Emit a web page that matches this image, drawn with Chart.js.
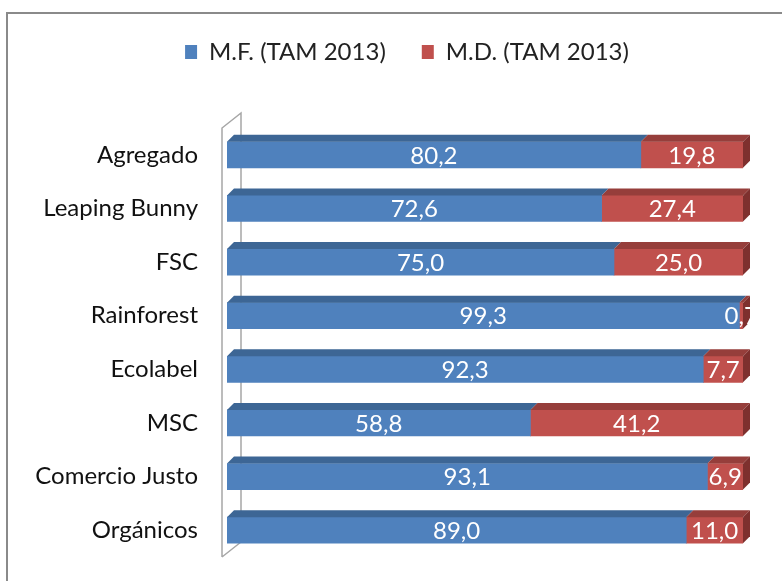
<!DOCTYPE html>
<html>
<head>
<meta charset="utf-8">
<script src="https://cdn.jsdelivr.net/npm/chart.js@4.4.0/dist/chart.umd.min.js"></script>
<style>
  body { margin: 0; overflow: hidden; background: #fff; }
  #wrap { position: relative; width: 782px; height: 581px; }
  #frame { position: absolute; left: 6px; top: 12px; width: 900px; height: 900px; border: 2px solid #8a8a8a; }
  #chartPlace { position: absolute; left: 0; top: 0; }
</style>
</head>
<body>
<div id="wrap">
  <div id="frame"></div>
  <canvas id="chartPlace" width="782" height="581"></canvas>
</div>
<script>
const categories = ["Agregado", "Leaping Bunny", "FSC", "Rainforest", "Ecolabel", "MSC", "Comercio Justo", "Orgánicos"];
const seriesNames = ["M.F. (TAM 2013)", "M.D. (TAM 2013)"];
const valuesMF = [80.2, 72.6, 75.0, 99.3, 92.3, 58.8, 93.1, 89.0];
const valuesMD = [19.8, 27.4, 25.0, 0.7, 7.7, 41.2, 6.9, 11.0];

const fontName = "Lato";
const frontColors = ["#4f81bd", "#c0504d"];
const topColors = ["#3d6695", "#963e3b"];
const sideColors = ["#34587f", "#7e302e"];
const depthX = 7;
const depthY = 7;

/* back wall of the 3d plot, drawn before the bars */
const wallPlugin = {
  id: "wall",
  beforeDatasetsDraw(chart) {
    var a = chart.chartArea;
    var ctx = chart.ctx;
    var fx = a.left - 5, bx = a.left + 14, dy = 15;
    ctx.save();
    ctx.strokeStyle = "#a6a6a6";
    ctx.lineWidth = 1.5;
    ctx.beginPath();
    ctx.moveTo(fx, a.bottom);
    ctx.lineTo(fx, a.top);
    ctx.lineTo(bx, a.top - dy);
    ctx.lineTo(bx, a.bottom - dy);
    ctx.lineTo(fx, a.bottom);
    ctx.stroke();
    ctx.restore();
  }
};

/* top and right faces of each bar, then the value labels */
const depthPlugin = {
  id: "depth",
  afterDatasetsDraw(chart) {
    var ctx = chart.ctx;
    ctx.save();
    chart.data.datasets.forEach(function (ds, i) {
      var meta = chart.getDatasetMeta(i);
      meta.data.forEach(function (bar) {
        var top = bar.y - bar.height / 2;
        var bottom = bar.y + bar.height / 2;
        ctx.fillStyle = topColors[i];
        ctx.beginPath();
        ctx.moveTo(bar.base, top);
        ctx.lineTo(bar.base + depthX, top - depthY);
        ctx.lineTo(bar.x + depthX, top - depthY);
        ctx.lineTo(bar.x, top);
        ctx.closePath();
        ctx.fill();
        if (i == chart.data.datasets.length - 1) {
          ctx.fillStyle = sideColors[i];
          ctx.beginPath();
          ctx.moveTo(bar.x, top);
          ctx.lineTo(bar.x + depthX, top - depthY);
          ctx.lineTo(bar.x + depthX, bottom - depthY);
          ctx.lineTo(bar.x, bottom);
          ctx.closePath();
          ctx.fill();
        }
      });
    });
    ctx.fillStyle = "#ffffff";
    ctx.font = "24px " + fontName;
    ctx.textAlign = "center";
    ctx.textBaseline = "middle";
    chart.data.datasets.forEach(function (ds, i) {
      var meta = chart.getDatasetMeta(i);
      meta.data.forEach(function (bar, j) {
        var txt = ds.data[j].toFixed(1).replace(".", ",");
        ctx.fillText(txt, (bar.x + bar.base) / 2, bar.y + 1);
      });
    });
    ctx.restore();
  }
};

function createChart() {
  var chartPlace = document.getElementById("chartPlace").getContext("2d");
  const data = {
    labels: categories,
    datasets: [{
      label: seriesNames[0],
      data: valuesMF,
      backgroundColor: frontColors[0],
      barThickness: 26
    }, {
      label: seriesNames[1],
      data: valuesMD,
      backgroundColor: frontColors[1],
      barThickness: 26
    }]
  };
  const chart = new Chart(chartPlace, {
    type: "bar",
    data: data,
    plugins: [wallPlugin, depthPlugin],
    options: {
      indexAxis: "y",
      responsive: false,
      animation: false,
      layout: { padding: { top: 4, left: 32, right: 0, bottom: 24 } },
      plugins: {
        tooltip: { enabled: false },
        legend: {
          position: "top",
          labels: {
            boxWidth: 12,
            boxHeight: 14,
            padding: 36,
            color: "#222",
            font: { family: fontName, size: 24 }
          }
        }
      },
      scales: {
        x: {
          position: "top",
          stacked: true,
          min: 0,
          max: 100,
          grid: { display: false },
          border: { display: false },
          ticks: { display: false },
          afterFit: function (scale) { scale.height = 54; }
        },
        y: {
          stacked: true,
          grid: { display: false, drawTicks: true, tickLength: 27 },
          border: { display: false },
          ticks: {
            padding: 2,
            color: "#111",
            font: { family: fontName, size: 24 }
          },
          afterFit: function (scale) { scale.width = 195; }
        },
        /* empty right-hand box that keeps the bars off the right edge */
        yRight: {
          type: "category",
          position: "right",
          grid: { display: false, drawTicks: false },
          border: { display: false },
          ticks: { display: false },
          afterFit: function (scale) { scale.width = 39; }
        }
      }
    }
  });
}

createChart();
</script>
</body>
</html>
